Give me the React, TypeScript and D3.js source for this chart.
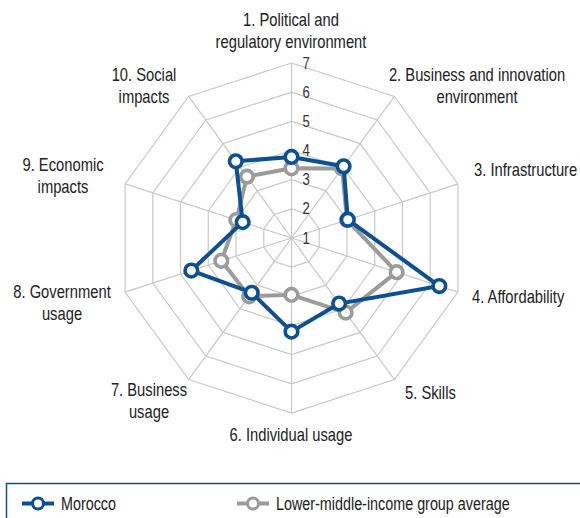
import React, { useEffect, useRef } from "react";
import * as d3 from "d3";

const axisLabels = [
  ["1. Political and", "regulatory environment"],
  ["2. Business and innovation", "environment"],
  ["3. Infrastructure"],
  ["4. Affordability"],
  ["5. Skills"],
  ["6. Individual usage"],
  ["7. Business", "usage"],
  ["8. Government", "usage"],
  ["9. Economic", "impacts"],
  ["10. Social", "impacts"],
];
const morocco = [3.78, 4.04, 3.03, 6.33, 3.78, 4.21, 3.32, 4.61, 2.76, 4.25];
const groupAvg = [3.39, 3.95, 3.0, 4.79, 4.16, 2.95, 3.47, 3.53, 2.99, 3.6];
const ringTicks = [1, 2, 3, 4, 5, 6, 7];
const seriesNames = ["Morocco", "Lower-middle-income group average"];

// label anchor positions (px) for each axis label block
const labelPos: [number, number, string][] = [
  [291, 20, "middle"],
  [477, 75, "middle"],
  [474, 170, "start"],
  [472, 297, "start"],
  [405, 393, "start"],
  [291, 435, "middle"],
  [149, 390, "middle"],
  [62, 292, "middle"],
  [63, 165, "middle"],
  [144, 75, "middle"],
];

const BLUE = "#0b4f95";
const GRAY = "#9b9b9b";
const FONT = "'Liberation Sans', Arial, sans-serif";
const NARROW = 0.82; // squeeze to look like a condensed face

export default function App() {
  const ref = useRef<SVGSVGElement>(null);

  useEffect(() => {
    const svg = d3.select(ref.current);
    svg.selectAll("*").remove();

    const narrowText = (x: number, y: number, size: number, anchor: string, s: string) =>
      svg.append("text")
        .attr("transform", `translate(${x},${y}) scale(${NARROW},1)`)
        .attr("dy", "0.35em").attr("font-family", FONT).attr("font-size", size)
        .attr("fill", "#222").attr("text-anchor", anchor).text(s);

    const cx = 291.5;
    const cy = 238;
    const r = d3.scaleLinear().domain([1, 7]).range([0, 175]);
    const n = axisLabels.length;
    const angle = (i: number) => (i * 2 * Math.PI) / n;
    const pt = (i: number, v: number): [number, number] => [
      cx + r(v) * Math.sin(angle(i)),
      cy - r(v) * Math.cos(angle(i)),
    ];

    const grid = svg.append("g");
    ringTicks.slice(1).forEach((t) => {
      const pts = d3.range(n).map((i) => pt(i, t));
      grid.append("path")
        .attr("d", d3.line()([...pts, pts[0]]))
        .attr("fill", "none").attr("stroke", "#c9c9c9").attr("stroke-width", 1.2);
    });
    d3.range(n).forEach((i) => {
      const [x, y] = pt(i, 7);
      grid.append("line").attr("x1", cx).attr("y1", cy).attr("x2", x).attr("y2", y)
        .attr("stroke", "#c9c9c9").attr("stroke-width", 1.2);
    });

    ringTicks.forEach((t) => {
      narrowText(cx + 11, cy - r(t), 16, "start", String(t)).attr("fill", "#333");
    });

    const drawSeries = (vals: number[], color: string) => {
      const pts = vals.map((v, i) => pt(i, v));
      const g = svg.append("g");
      g.append("path").attr("d", d3.line()([...pts, pts[0]]))
        .attr("fill", "none").attr("stroke", color).attr("stroke-width", 4)
        .attr("stroke-linejoin", "round");
      g.selectAll("circle").data(pts).join("circle")
        .attr("cx", (d) => d[0]).attr("cy", (d) => d[1]).attr("r", 6.3)
        .attr("fill", "#fff").attr("stroke", color).attr("stroke-width", 3.6);
    };
    drawSeries(groupAvg, GRAY);
    drawSeries(morocco, BLUE);

    axisLabels.forEach((lines, i) => {
      const [x, y, anchor] = labelPos[i];
      lines.forEach((s, j) => narrowText(x, y + j * 22, 18, anchor, s));
    });

    // legend
    svg.append("rect").attr("x", 6.5).attr("y", 483.5).attr("width", 620).attr("height", 80)
      .attr("fill", "none").attr("stroke", BLUE).attr("stroke-width", 1.5);
    const legendX = [22, 237];
    seriesNames.forEach((name, i) => {
      const color = i === 0 ? BLUE : GRAY;
      const x0 = legendX[i];
      const y0 = 503.5;
      svg.append("line").attr("x1", x0).attr("x2", x0 + 32).attr("y1", y0).attr("y2", y0)
        .attr("stroke", color).attr("stroke-width", 4);
      svg.append("circle").attr("cx", x0 + 16).attr("cy", y0).attr("r", 5.5)
        .attr("fill", "#fff").attr("stroke", color).attr("stroke-width", 3);
      narrowText(x0 + 39, y0, 17.5, "start", name);
    });
  }, []);

  return (
    <svg ref={ref} width={580} height={518}
      style={{ position: "absolute", left: 0, top: 0, background: "#fff" }} />
  );
}
